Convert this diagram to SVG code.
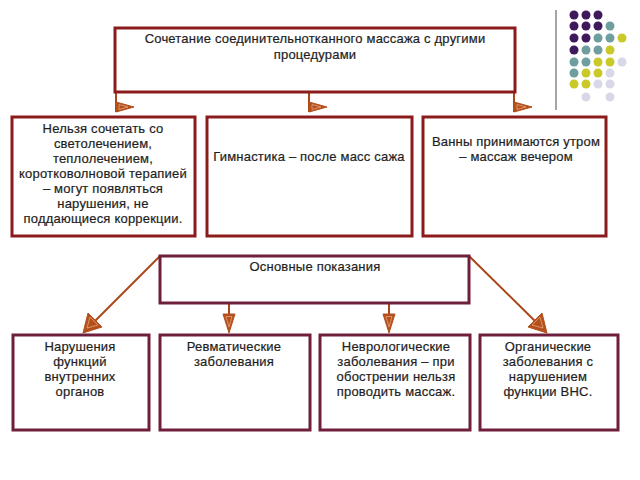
<svg xmlns="http://www.w3.org/2000/svg" width="640" height="480" viewBox="0 0 640 480">
<style>
.bx{fill:#fff;stroke:#8c1c1c;stroke-width:3}
.bx2{fill:#fff;stroke:#6e1f3c;stroke-width:3}
text{font-family:"Liberation Sans",Arial,sans-serif;font-size:13px;letter-spacing:0.2px;fill:#1e1e1e;stroke:#1e1e1e;stroke-width:0.2;text-anchor:middle}
.ln{stroke:#a8461c;stroke-width:2;fill:none}
.ah{fill:#b4501c;stroke:#b4501c;stroke-width:1}
.ai{fill:none;stroke:#e8a27a;stroke-width:0.8}
</style>
<rect width="640" height="480" fill="#fff"/>
<g id="decor">
<line x1="556" y1="10" x2="556" y2="110" stroke="#888" stroke-width="1.5"/>
<g fill="#3e1a5c">
<circle cx="574" cy="15" r="4.5"/><circle cx="586" cy="15" r="4.5"/><circle cx="598" cy="15" r="4.5"/>
<circle cx="574" cy="26" r="4.5"/><circle cx="586" cy="26" r="4.5"/><circle cx="598" cy="26" r="4.5"/>
<circle cx="574" cy="38" r="4.5"/><circle cx="586" cy="38" r="4.5"/>
<circle cx="574" cy="50" r="4.5"/>
</g>
<g fill="#6f9e9e">
<circle cx="610" cy="26" r="4.5"/>
<circle cx="598" cy="38" r="4.5"/><circle cx="610" cy="38" r="4.5"/>
<circle cx="586" cy="50" r="4.5"/><circle cx="598" cy="50" r="4.5"/>
<circle cx="574" cy="62" r="4.5"/><circle cx="586" cy="62" r="4.5"/>
<circle cx="574" cy="73" r="4.5"/>
</g>
<g fill="#c9c92a">
<circle cx="622" cy="38" r="4.5"/>
<circle cx="610" cy="50" r="4.5"/>
<circle cx="598" cy="62" r="4.5"/><circle cx="610" cy="62" r="4.5"/>
<circle cx="586" cy="73" r="4.5"/><circle cx="598" cy="73" r="4.5"/>
<circle cx="574" cy="84" r="4.5"/><circle cx="586" cy="84" r="4.5"/>
</g>
<g fill="#d8d8e8">
<circle cx="622" cy="62" r="4.5"/>
<circle cx="610" cy="73" r="4.5"/>
<circle cx="598" cy="84" r="4.5"/><circle cx="610" cy="84" r="4.5"/>
<circle cx="586" cy="97" r="4.5"/><circle cx="610" cy="97" r="4.5"/>
</g>
</g>
<g id="connectors">
<line class="ln" x1="116" y1="92" x2="116" y2="112"/>
<line class="ln" x1="309" y1="92" x2="309" y2="112"/>
<line class="ln" x1="514" y1="92" x2="514" y2="112"/>
<polygon class="ah" points="116,102 116,112 134,107"/>
<polygon class="ai" points="119,104.5 119,109.5 128,107"/>
<polygon class="ah" points="309,102 309,112 327,107"/>
<polygon class="ai" points="312,104.5 312,109.5 321,107"/>
<polygon class="ah" points="514,102 514,112 532,107"/>
<polygon class="ai" points="517,104.5 517,109.5 526,107"/>
<line class="ln" x1="160" y1="256" x2="92" y2="324"/>
<polygon class="ah" points="83,333 88,313 102,327"/>
<polygon class="ai" points="87,328 90,317 98,325"/>
<line class="ln" x1="469" y1="256" x2="538" y2="324"/>
<polygon class="ah" points="547,333 542,313 528,327"/>
<polygon class="ai" points="543,328 540,317 532,325"/>
<line class="ln" x1="229" y1="303" x2="229" y2="315"/>
<polygon class="ah" points="223,314 235,314 229,333"/>
<polygon class="ai" points="226,316.5 232,316.5 229,327"/>
<line class="ln" x1="389" y1="303" x2="389" y2="315"/>
<polygon class="ah" points="383,314 395,314 389,333"/>
<polygon class="ai" points="386,316.5 392,316.5 389,327"/>
</g>
<g id="top">
<rect class="bx" x="115" y="28" width="400" height="64"/>
<text x="315" y="43">Сочетание соединительнотканного массажа с другими</text>
<text x="315" y="59">процедурами</text>
</g>
<g id="b1">
<rect class="bx" x="12" y="117" width="183" height="119"/>
<text x="103" y="133">Нельзя сочетать со</text>
<text x="103" y="148">светолечением,</text>
<text x="103" y="163">теплолечением,</text>
<text x="103" y="178">коротковолновой терапией</text>
<text x="103" y="193">– могут появляться</text>
<text x="103" y="208">нарушения, не</text>
<text x="103" y="223">поддающиеся коррекции.</text>
</g>
<g id="b2">
<rect class="bx" x="207" y="117" width="205" height="119"/>
<text x="309" y="161">Гимнастика – после масс сажа</text>
</g>
<g id="b3">
<rect class="bx" x="423" y="117" width="183" height="119"/>
<text x="516" y="146">Ванны принимаются утром</text>
<text x="516" y="161">– массаж вечером</text>
</g>
<g id="main">
<rect class="bx2" x="160" y="256" width="309" height="47"/>
<text x="315" y="271">Основные показания</text>
</g>
<g id="c1">
<rect class="bx2" x="13" y="335" width="136" height="95"/>
<text x="80" y="351">Нарушения</text>
<text x="80" y="366">функций</text>
<text x="80" y="381">внутренних</text>
<text x="80" y="396">органов</text>
</g>
<g id="c2">
<rect class="bx2" x="160" y="335" width="150" height="95"/>
<text x="234" y="351">Ревматические</text>
<text x="234" y="366">заболевания</text>
</g>
<g id="c3">
<rect class="bx2" x="320" y="335" width="150" height="95"/>
<text x="396" y="351">Неврологические</text>
<text x="396" y="366">заболевания – при</text>
<text x="396" y="381">обострении нельзя</text>
<text x="396" y="396">проводить массаж.</text>
</g>
<g id="c4">
<rect class="bx2" x="480" y="335" width="138" height="95"/>
<text x="548" y="351">Органические</text>
<text x="548" y="366">заболевания с</text>
<text x="548" y="381">нарушением</text>
<text x="548" y="396">функции ВНС.</text>
</g>
</svg>
